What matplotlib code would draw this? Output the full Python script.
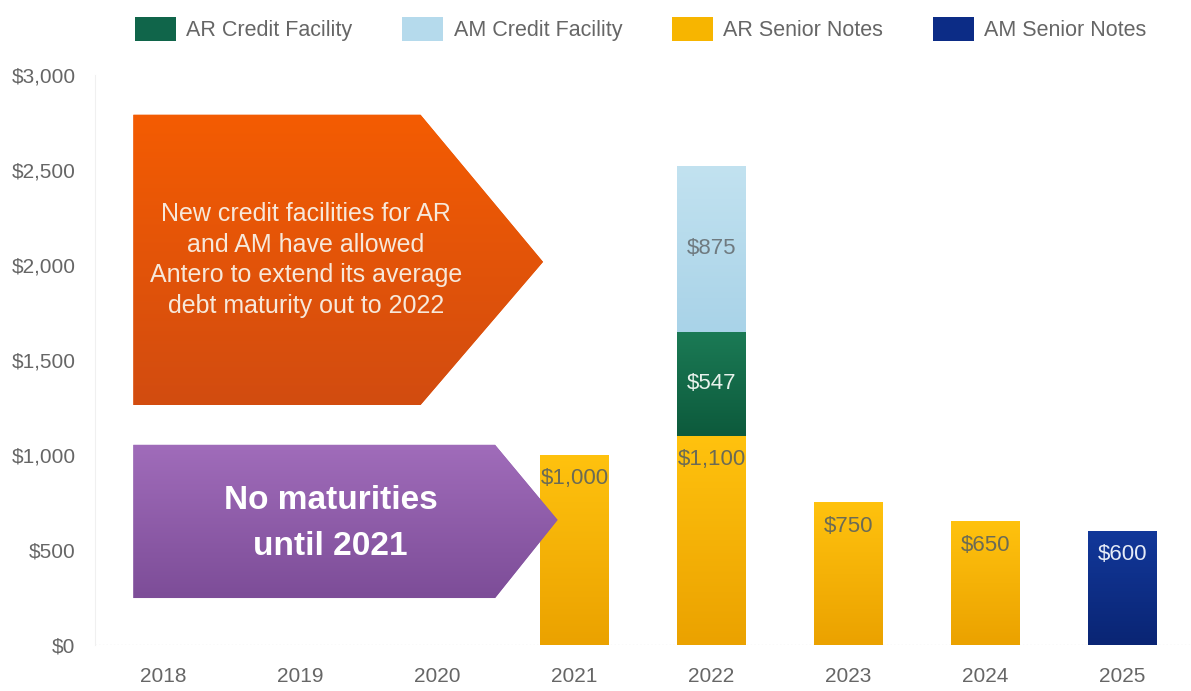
import numpy as np
import matplotlib
matplotlib.use("Agg")
import matplotlib.pyplot as plt
from matplotlib.patches import Polygon, Patch
import matplotlib.colors as mcolors

plt.rcParams['font.family'] = ['Liberation Sans', 'DejaVu Sans']

# Data ($ millions)
years = ['2018', '2019', '2020', '2021', '2022', '2023', '2024', '2025']
ar_senior = [0, 0, 0, 1000, 1100, 750, 650, 0]
ar_credit = [0, 0, 0, 0, 547, 0, 0, 0]
am_credit = [0, 0, 0, 0, 875, 0, 0, 0]
am_senior = [0, 0, 0, 0, 0, 0, 0, 600]
series_names = ['AR Credit Facility', 'AM Credit Facility', 'AR Senior Notes', 'AM Senior Notes']
yticks = [0, 500, 1000, 1500, 2000, 2500, 3000]

# colours: (top, bottom) of gradient
grad = {
    'AR Senior Notes': ('#FFC20E', '#EBA200'),
    'AR Credit Facility': ('#1B7A55', '#0D5A3C'),
    'AM Credit Facility': ('#C2E2F0', '#A9D3E8'),
    'AM Senior Notes': ('#12389A', '#0A2574'),
}
legend_color = {
    'AR Senior Notes': '#F7B500',
    'AR Credit Facility': '#10654A',
    'AM Credit Facility': '#B5DAEC',
    'AM Senior Notes': '#0C2C86',
}
label_color = {
    'AR Senior Notes': '#6b6b55',
    'AR Credit Facility': '#E8F2EC',
    'AM Credit Facility': '#6f7a80',
    'AM Senior Notes': '#E6ECF7',
}


def gradient_fill(ax, patch, top, bottom, extent):
    cmap = mcolors.LinearSegmentedColormap.from_list('g', [bottom, top])
    img = np.linspace(0, 1, 100).reshape(-1, 1)
    im = ax.imshow(img, cmap=cmap, aspect='auto', origin='lower', extent=extent, zorder=patch.get_zorder())
    im.set_clip_path(patch)


fig = plt.figure(figsize=(11.91, 6.91), dpi=100)
ax = fig.add_axes([0.0798, 0.0666, 0.9202, 0.825])

x = np.arange(len(years))
width = 0.5
bottom = np.zeros(len(years))
stack = [('AR Senior Notes', ar_senior), ('AR Credit Facility', ar_credit),
         ('AM Credit Facility', am_credit), ('AM Senior Notes', am_senior)]
for name, vals in stack:
    vals = np.array(vals, dtype=float)
    bars = ax.bar(x, vals, width, bottom=bottom, color=grad[name][0], linewidth=0, zorder=2)
    for i, (b, v) in enumerate(zip(bars, vals)):
        if v <= 0:
            continue
        gradient_fill(ax, b, grad[name][0], grad[name][1],
                      (x[i] - width / 2, x[i] + width / 2, bottom[i], bottom[i] + v))
        if name in ('AM Credit Facility', 'AR Credit Facility'):
            ty = bottom[i] + v / 2
        else:
            ty = bottom[i] + v - 125
        ax.text(x[i], ty, '$' + format(int(v), ','), ha='center', va='center',
                fontsize=16, color=label_color[name], zorder=5)
    bottom += vals

# callout arrows
orange = Polygon([(-0.22, 2790), (1.876, 2790), (2.77, 2016), (1.876, 1263), (-0.22, 1263)],
                 closed=True, facecolor='#E8560A', edgecolor='none', zorder=3)
ax.add_patch(orange)
gradient_fill(ax, orange, '#F45C02', '#D24C10', (-0.22, 2.77, 1263, 2790))
ax.text(1.04, 2025, 'New credit facilities for AR\nand AM have allowed\nAntero to extend its average\ndebt maturity out to 2022',
        ha='center', va='center', fontsize=18, color='#F7E8DA', linespacing=1.34, zorder=5)

purple = Polygon([(-0.22, 1053), (2.42, 1053), (2.876, 658), (2.42, 247), (-0.22, 247)],
                 closed=True, facecolor='#8E5FAA', edgecolor='none', zorder=3)
ax.add_patch(purple)
gradient_fill(ax, purple, '#A06CBA', '#7D4D98', (-0.22, 2.876, 247, 1053))
ax.text(1.22, 637, 'No maturities\nuntil 2021', ha='center', va='center', fontsize=24,
        fontweight='bold', color='white', linespacing=1.62, zorder=5)

ax.set_xlim(-0.5, len(years) - 0.5)
ax.set_ylim(0, 3000)
ax.set_xticks(x)
ax.set_xticklabels(years)
ax.set_yticks(yticks)
ax.set_yticklabels(['$' + format(v, ',') for v in yticks])
ax.tick_params(length=0, labelsize=15, labelcolor='#666666')
ax.tick_params(axis='x', pad=16)
ax.tick_params(axis='y', pad=14)
for s in ['top', 'right', 'bottom']:
    ax.spines[s].set_visible(False)
ax.spines['left'].set_color('#f0f0f0')
ax.axhline(0, color='#e6e6e6', lw=1, ls=':', zorder=1)

handles = [Patch(facecolor=legend_color[n], edgecolor='none') for n in series_names]
fig.legend(handles, series_names, loc='center', bbox_to_anchor=(0.538, 0.958), ncol=4,
           frameon=False, fontsize=15.5, handlelength=1.9, handleheight=1.3, columnspacing=2.3,
           handletextpad=0.5, labelcolor='#666666')

fig.savefig('out.png', dpi=100, facecolor='white')
